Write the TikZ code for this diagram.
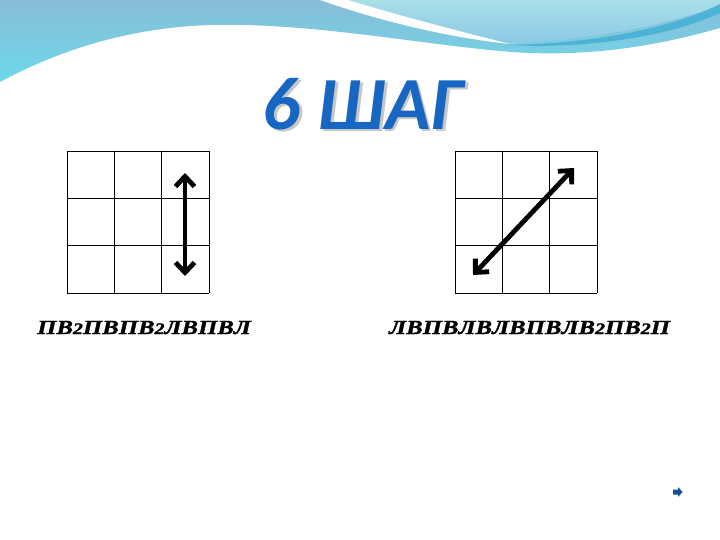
\documentclass[tikz,border=0pt]{standalone}
\usepackage{fontspec}
\setmainfont{Liberation Serif}
\newfontfamily\titlefont{Carlito}
\newfontfamily\movefont[FakeStretch=1.24,FakeBold=1.5]{Liberation Serif}
\usetikzlibrary{arrows.meta}

\definecolor{wavetop}{HTML}{88BDD9}
\definecolor{wavelow}{HTML}{6DD9E9}
\definecolor{skyhigh}{HTML}{A8DEE7}
\definecolor{skylow}{HTML}{8CC9E6}
\definecolor{stripe}{HTML}{4CB2D6}
\definecolor{titleblue}{HTML}{1767C2}

\newcommand\lowtwo{{\fontsize{16}{16}\selectfont 2}}

\tikzset{
  cell/.style={draw=black, line width=0.9pt},
  move/.style={line width=4.8pt, arrows={Straight Barb[length=10pt,width=19pt]-Straight Barb[length=10pt,width=19pt]}},
  seqlabel/.style={font=\movefont\bfseries\itshape\fontsize{20}{20}\selectfont, inner sep=0pt, anchor=base west},
  heading/.style={font=\titlefont\bfseries\itshape\fontsize{75}{75}\selectfont, inner sep=0pt},
}

\begin{document}
\begin{tikzpicture}[x=1pt, y=-1pt]
  \useasboundingbox (0,0) rectangle (720,540);
  \fill[white] (0,0) rectangle (720,540);

  % top wave
  \shade[top color=wavetop, bottom color=wavelow]
    (0,0) -- (720,0) -- (720,28) .. controls (650,48) and (590,55) .. (530,53)
    .. controls (450,50) and (320,22) .. (210,25) .. controls (120,28) and (50,55) .. (0,82) -- cycle;
  \shade[top color=skyhigh, bottom color=skylow]
    (330,0) .. controls (400,25) and (470,38) .. (512,44)
    .. controls (600,38) and (670,25) .. (720,5) -- (720,0) -- cycle;
  \fill[white] (320,0) .. controls (400,28) and (470,40) .. (510,44)
    .. controls (470,34) and (400,16) .. (348,0) -- cycle;
  \fill[stripe] (505,45) .. controls (600,44) and (680,25) .. (720,4)
    -- (720,13) .. controls (680,32) and (600,50) .. (505,45) -- cycle;

  % title
  \node[heading, text=black!22] (titleshadow) at (365.5,106.5) {6 ШАГ};
  \node[heading, text=titleblue] (title) at (363,104) {6 ШАГ};

  % grids
  \foreach \i in {0,...,3} {
    \draw[cell] (67+47.33*\i,151) -- (67+47.33*\i,293);
    \draw[cell] (67,151+47.33*\i) -- (209,151+47.33*\i);
    \draw[cell] (455+47.33*\i,151) -- (455+47.33*\i,293);
    \draw[cell] (455,151+47.33*\i) -- (597,151+47.33*\i);
  }

  % moves
  \coordinate (up) at (185,173);
  \coordinate (down) at (185,276);
  \coordinate (ne) at (574,168);
  \coordinate (sw) at (473,275);
  \draw[move] (up) -- (down);
  \draw[move] (sw) -- (ne);

  % sequences
  \node[seqlabel] (leftseq) at (37,334) {ПВ\lowtwo ПВПВ\lowtwo ЛВПВЛ};
  \node[seqlabel] (rightseq) at (389,334) {ЛВПВЛВЛВПВЛВ\lowtwo ПВ\lowtwo П};

  % next button
  \fill[titleblue!80!black] (673,489.5) -- (678,489.5) -- (678,487) -- (682.5,492)
    -- (678,497) -- (678,494.5) -- (673,494.5) -- cycle;
\end{tikzpicture}
\end{document}
